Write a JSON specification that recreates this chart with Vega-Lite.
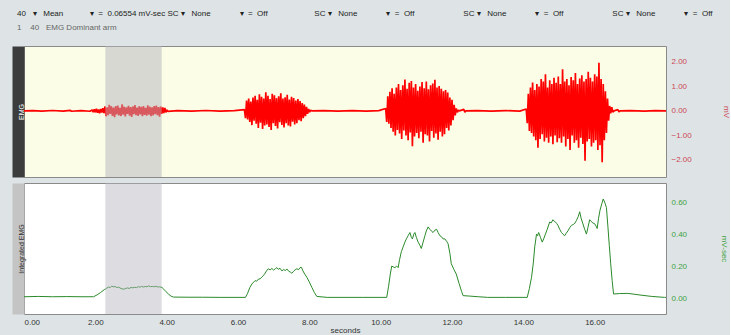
{
  "$schema": "https://vega.github.io/schema/vega-lite/v6.json",
  "background": "#dee4e5",
  "padding": {"left": 17, "right": 0, "top": 9, "bottom": 2},
  "title": {
    "text": "40\u00a0\u00a0\u00a0▾\u00a0\u00a0\u00a0Mean\u00a0\u00a0\u00a0\u00a0\u00a0\u00a0\u00a0\u00a0\u00a0\u00a0\u00a0\u00a0▾\u00a0\u00a0=\u00a0\u00a00.06554 mV-sec\u00a0SC\u00a0▾\u00a0\u00a0\u00a0None\u00a0\u00a0\u00a0\u00a0\u00a0\u00a0\u00a0\u00a0\u00a0\u00a0\u00a0\u00a0\u00a0▾\u00a0\u00a0=\u00a0\u00a0Off\u00a0\u00a0\u00a0\u00a0\u00a0\u00a0\u00a0\u00a0\u00a0\u00a0\u00a0\u00a0\u00a0\u00a0\u00a0\u00a0\u00a0\u00a0\u00a0\u00a0\u00a0SC\u00a0▾\u00a0\u00a0\u00a0None\u00a0\u00a0\u00a0\u00a0\u00a0\u00a0\u00a0\u00a0\u00a0\u00a0\u00a0\u00a0\u00a0▾\u00a0\u00a0=\u00a0\u00a0Off\u00a0\u00a0\u00a0\u00a0\u00a0\u00a0\u00a0\u00a0\u00a0\u00a0\u00a0\u00a0\u00a0\u00a0\u00a0\u00a0\u00a0\u00a0\u00a0\u00a0\u00a0\u00a0SC\u00a0▾\u00a0\u00a0\u00a0None\u00a0\u00a0\u00a0\u00a0\u00a0\u00a0\u00a0\u00a0\u00a0\u00a0\u00a0\u00a0\u00a0▾\u00a0\u00a0=\u00a0\u00a0Off\u00a0\u00a0\u00a0\u00a0\u00a0\u00a0\u00a0\u00a0\u00a0\u00a0\u00a0\u00a0\u00a0\u00a0\u00a0\u00a0\u00a0\u00a0\u00a0\u00a0\u00a0\u00a0SC\u00a0▾\u00a0\u00a0\u00a0None\u00a0\u00a0\u00a0\u00a0\u00a0\u00a0\u00a0\u00a0\u00a0\u00a0\u00a0\u00a0\u00a0▾\u00a0\u00a0=\u00a0\u00a0Off",
    "subtitle": "1\u00a0\u00a0\u00a0\u00a040\u00a0\u00a0\u00a0EMG\u00a0Dominant arm",
    "anchor": "start",
    "frame": "bounds",
    "font": "Liberation Sans",
    "fontSize": 8,
    "fontWeight": "normal",
    "color": "#222222",
    "subtitleFont": "Liberation Sans",
    "subtitleFontSize": 8,
    "subtitleColor": "#666666",
    "subtitlePadding": 6,
    "offset": 14
  },
  "datasets": {
    "emg": [
      {"t":0,"v":0},{"t":0.25,"v":0.01},{"t":0.5,"v":-0.01},{"t":0.8,"v":0.015},{"t":1.1,"v":-0.01},{"t":1.3,"v":0.02},{"t":1.33,"v":-0.015},{"t":1.6,"v":0.01},{"t":1.85,"v":-0.015},
      {"t":1.91,"v":0.04},{"t":1.94,"v":-0.05},{"t":1.97,"v":0.07},{"t":2.0,"v":-0.06},{"t":2.03,"v":0.09},{"t":2.06,"v":-0.08},{"t":2.09,"v":0.06},{"t":2.12,"v":-0.1},{"t":2.15,"v":0.08},{"t":2.18,"v":-0.07},{"t":2.21,"v":0.11},{"t":2.24,"v":-0.09},{"t":2.27,"v":0.18},{"t":2.3,"v":-0.22},{"t":2.33,"v":0.14},{"t":2.36,"v":-0.17},{"t":2.39,"v":0.25},{"t":2.42,"v":-0.12},{"t":2.45,"v":0.19},{"t":2.48,"v":-0.2},{"t":2.51,"v":0.13},{"t":2.54,"v":-0.26},{"t":2.57,"v":0.2},{"t":2.6,"v":-0.14},{"t":2.63,"v":0.22},{"t":2.66,"v":-0.18},{"t":2.69,"v":0.12},{"t":2.72,"v":-0.21},{"t":2.75,"v":0.27},{"t":2.78,"v":-0.15},{"t":2.81,"v":0.17},{"t":2.84,"v":-0.23},{"t":2.87,"v":0.14},{"t":2.9,"v":-0.12},{"t":2.93,"v":0.21},{"t":2.96,"v":-0.19},{"t":2.99,"v":0.15},{"t":3.02,"v":-0.25},{"t":3.05,"v":0.18},{"t":3.08,"v":-0.13},{"t":3.11,"v":0.24},{"t":3.14,"v":-0.17},{"t":3.17,"v":0.13},{"t":3.2,"v":-0.2},{"t":3.23,"v":0.19},{"t":3.26,"v":-0.14},{"t":3.29,"v":0.16},{"t":3.32,"v":-0.22},{"t":3.35,"v":0.2},{"t":3.38,"v":-0.16},{"t":3.41,"v":0.12},{"t":3.44,"v":-0.19},{"t":3.47,"v":0.23},{"t":3.5,"v":-0.15},{"t":3.53,"v":0.17},{"t":3.56,"v":-0.21},{"t":3.59,"v":0.14},{"t":3.62,"v":-0.18},{"t":3.65,"v":0.2},{"t":3.68,"v":-0.13},{"t":3.71,"v":0.22},{"t":3.74,"v":-0.17},{"t":3.77,"v":0.15},{"t":3.8,"v":-0.24},{"t":3.83,"v":0.18},{"t":3.86,"v":-0.12},{"t":3.89,"v":0.14},{"t":3.92,"v":-0.09},{"t":3.95,"v":0.12},{"t":3.98,"v":-0.06},{"t":4.01,"v":0.04},{"t":4.04,"v":-0.02},
      {"t":4.3,"v":0.01},{"t":4.7,"v":-0.01},{"t":5.1,"v":0.015},{"t":5.5,"v":-0.01},{"t":5.9,"v":0.012},
      {"t":6.18,"v":0.05},{"t":6.21,"v":-0.3},{"t":6.24,"v":0.42},{"t":6.27,"v":-0.35},{"t":6.3,"v":0.5},{"t":6.33,"v":-0.45},{"t":6.36,"v":0.38},{"t":6.39,"v":-0.58},{"t":6.42,"v":0.55},{"t":6.45,"v":-0.4},{"t":6.48,"v":0.62},{"t":6.51,"v":-0.52},{"t":6.54,"v":0.45},{"t":6.57,"v":-0.7},{"t":6.6,"v":0.68},{"t":6.63,"v":-0.48},{"t":6.66,"v":0.58},{"t":6.69,"v":-0.74},{"t":6.72,"v":0.5},{"t":6.75,"v":-0.6},{"t":6.78,"v":0.76},{"t":6.81,"v":-0.55},{"t":6.84,"v":0.62},{"t":6.87,"v":-0.66},{"t":6.9,"v":0.48},{"t":6.93,"v":-0.78},{"t":6.96,"v":0.7},{"t":6.99,"v":-0.5},{"t":7.02,"v":0.64},{"t":7.05,"v":-0.62},{"t":7.08,"v":0.52},{"t":7.11,"v":-0.72},{"t":7.14,"v":0.6},{"t":7.17,"v":-0.46},{"t":7.2,"v":0.72},{"t":7.23,"v":-0.58},{"t":7.26,"v":0.5},{"t":7.29,"v":-0.68},{"t":7.32,"v":0.56},{"t":7.35,"v":-0.5},{"t":7.38,"v":0.66},{"t":7.41,"v":-0.6},{"t":7.44,"v":0.46},{"t":7.47,"v":-0.64},{"t":7.5,"v":0.58},{"t":7.53,"v":-0.44},{"t":7.56,"v":0.52},{"t":7.59,"v":-0.55},{"t":7.62,"v":0.42},{"t":7.65,"v":-0.5},{"t":7.68,"v":0.48},{"t":7.71,"v":-0.38},{"t":7.74,"v":0.4},{"t":7.77,"v":-0.42},{"t":7.8,"v":0.32},{"t":7.83,"v":-0.3},{"t":7.86,"v":0.26},{"t":7.89,"v":-0.22},{"t":7.92,"v":0.16},{"t":7.95,"v":-0.12},{"t":7.98,"v":0.08},{"t":8.01,"v":-0.05},{"t":8.04,"v":0.03},{"t":8.07,"v":0},
      {"t":8.4,"v":0.01},{"t":8.8,"v":-0.01},{"t":9.2,"v":0.012},{"t":9.6,"v":-0.01},{"t":9.95,"v":0.01},
      {"t":10.14,"v":0.1},{"t":10.17,"v":-0.45},{"t":10.2,"v":0.6},{"t":10.23,"v":-0.52},{"t":10.26,"v":0.78},{"t":10.29,"v":-0.7},{"t":10.32,"v":0.92},{"t":10.35,"v":-0.85},{"t":10.38,"v":0.7},{"t":10.41,"v":-1.0},{"t":10.44,"v":0.95},{"t":10.47,"v":-0.78},{"t":10.5,"v":1.1},{"t":10.53,"v":-0.92},{"t":10.56,"v":0.85},{"t":10.59,"v":-1.15},{"t":10.62,"v":1.05},{"t":10.65,"v":-0.8},{"t":10.68,"v":1.28},{"t":10.71,"v":-1.0},{"t":10.74,"v":0.9},{"t":10.77,"v":-1.2},{"t":10.8,"v":1.15},{"t":10.83,"v":-0.88},{"t":10.86,"v":1.22},{"t":10.89,"v":-1.44},{"t":10.92,"v":0.95},{"t":10.95,"v":-1.05},{"t":10.98,"v":1.1},{"t":11.01,"v":-0.9},{"t":11.04,"v":0.82},{"t":11.07,"v":-1.12},{"t":11.1,"v":1.0},{"t":11.13,"v":-0.85},{"t":11.16,"v":1.18},{"t":11.19,"v":-1.3},{"t":11.22,"v":0.92},{"t":11.25,"v":-0.95},{"t":11.28,"v":1.2},{"t":11.31,"v":-1.0},{"t":11.34,"v":0.88},{"t":11.37,"v":-1.25},{"t":11.4,"v":1.05},{"t":11.43,"v":-0.82},{"t":11.46,"v":1.12},{"t":11.49,"v":-1.1},{"t":11.52,"v":1.27},{"t":11.55,"v":-0.92},{"t":11.58,"v":0.95},{"t":11.61,"v":-1.18},{"t":11.64,"v":1.02},{"t":11.67,"v":-0.85},{"t":11.7,"v":0.9},{"t":11.73,"v":-1.05},{"t":11.76,"v":0.8},{"t":11.79,"v":-0.95},{"t":11.82,"v":0.85},{"t":11.85,"v":-0.7},{"t":11.88,"v":0.75},{"t":11.91,"v":-0.8},{"t":11.94,"v":0.55},{"t":11.97,"v":-0.6},{"t":12.0,"v":0.45},{"t":12.03,"v":-0.38},{"t":12.06,"v":0.25},{"t":12.09,"v":-0.18},{"t":12.12,"v":0.1},{"t":12.15,"v":-0.06},{"t":12.18,"v":0.03},{"t":12.21,"v":0},
      {"t":12.33,"v":0.06},{"t":12.36,"v":-0.05},{"t":12.39,"v":0},{"t":12.7,"v":0.01},{"t":13.1,"v":-0.01},{"t":13.5,"v":0.012},{"t":13.9,"v":-0.01},
      {"t":14.08,"v":0.08},{"t":14.11,"v":-0.5},{"t":14.14,"v":0.7},{"t":14.17,"v":-0.82},{"t":14.2,"v":0.95},{"t":14.23,"v":-0.9},{"t":14.26,"v":1.16},{"t":14.29,"v":-1.05},{"t":14.32,"v":0.85},{"t":14.35,"v":-1.2},{"t":14.38,"v":1.1},{"t":14.41,"v":-1.5},{"t":14.44,"v":1.0},{"t":14.47,"v":-1.15},{"t":14.5,"v":1.3},{"t":14.53,"v":-0.95},{"t":14.56,"v":1.2},{"t":14.59,"v":-1.25},{"t":14.62,"v":1.5},{"t":14.65,"v":-1.1},{"t":14.68,"v":0.95},{"t":14.71,"v":-1.3},{"t":14.74,"v":1.25},{"t":14.77,"v":-1.05},{"t":14.8,"v":1.1},{"t":14.83,"v":-1.36},{"t":14.86,"v":1.35},{"t":14.89,"v":-1.0},{"t":14.92,"v":1.15},{"t":14.95,"v":-1.28},{"t":14.98,"v":1.4},{"t":15.01,"v":-1.12},{"t":15.04,"v":1.1},{"t":15.07,"v":-1.3},{"t":15.1,"v":1.7},{"t":15.13,"v":-1.05},{"t":15.16,"v":1.2},{"t":15.19,"v":-1.45},{"t":15.22,"v":1.3},{"t":15.25,"v":-1.15},{"t":15.28,"v":1.05},{"t":15.31,"v":-1.6},{"t":15.34,"v":1.38},{"t":15.37,"v":-1.0},{"t":15.4,"v":1.25},{"t":15.43,"v":-1.3},{"t":15.46,"v":1.55},{"t":15.49,"v":-1.2},{"t":15.52,"v":1.1},{"t":15.55,"v":-1.5},{"t":15.58,"v":1.32},{"t":15.61,"v":-1.1},{"t":15.64,"v":1.45},{"t":15.67,"v":-1.35},{"t":15.7,"v":1.2},{"t":15.73,"v":-2.04},{"t":15.76,"v":1.3},{"t":15.79,"v":-1.25},{"t":15.82,"v":1.6},{"t":15.85,"v":-1.15},{"t":15.88,"v":1.35},{"t":15.91,"v":-1.45},{"t":15.94,"v":1.2},{"t":15.97,"v":-1.3},{"t":16.0,"v":1.5},{"t":16.03,"v":-1.2},{"t":16.06,"v":1.4},{"t":16.09,"v":-1.6},{"t":16.12,"v":1.97},{"t":16.15,"v":-1.4},{"t":16.18,"v":1.3},{"t":16.21,"v":-2.1},{"t":16.24,"v":1.1},{"t":16.27,"v":-1.2},{"t":16.3,"v":0.8},{"t":16.33,"v":-0.9},{"t":16.36,"v":0.5},{"t":16.39,"v":-0.4},{"t":16.42,"v":0.2},{"t":16.45,"v":-0.1},{"t":16.48,"v":0.15},{"t":16.51,"v":-0.05},{"t":16.54,"v":0},
      {"t":16.65,"v":0.05},{"t":16.68,"v":-0.04},{"t":16.71,"v":0},{"t":17.0,"v":0.01},{"t":17.4,"v":-0.01},{"t":17.7,"v":0.012},{"t":18,"v":0}
    ],
    "iemg": [
      {"t":0,"v":0.008},{"t":0.4,"v":0.01},{"t":0.8,"v":0.008},{"t":1.2,"v":0.009},{"t":1.6,"v":0.008},{"t":1.95,"v":0.008},{"t":2.05,"v":0.02},{"t":2.15,"v":0.035},{"t":2.25,"v":0.052},{"t":2.32,"v":0.062},{"t":2.37,"v":0.068},{"t":2.42,"v":0.066},{"t":2.46,"v":0.075},{"t":2.5,"v":0.07},{"t":2.55,"v":0.072},{"t":2.6,"v":0.066},{"t":2.65,"v":0.068},{"t":2.72,"v":0.06},{"t":2.79,"v":0.055},{"t":2.85,"v":0.06},{"t":2.9,"v":0.063},{"t":2.95,"v":0.06},{"t":3.0,"v":0.066},{"t":3.05,"v":0.064},{"t":3.1,"v":0.067},{"t":3.15,"v":0.065},{"t":3.21,"v":0.071},{"t":3.26,"v":0.068},{"t":3.3,"v":0.073},{"t":3.35,"v":0.069},{"t":3.4,"v":0.072},{"t":3.45,"v":0.07},{"t":3.49,"v":0.076},{"t":3.55,"v":0.071},{"t":3.6,"v":0.073},{"t":3.65,"v":0.07},{"t":3.7,"v":0.074},{"t":3.75,"v":0.069},{"t":3.8,"v":0.07},{"t":3.87,"v":0.066},{"t":3.92,"v":0.055},{"t":3.98,"v":0.04},{"t":4.05,"v":0.025},{"t":4.12,"v":0.012},{"t":4.19,"v":0.006},{"t":4.6,"v":0.005},{"t":5.0,"v":0.005},{"t":5.5,"v":0.004},{"t":6.0,"v":0.004},{"t":6.21,"v":0.004},
      {"t":6.27,"v":0.03},{"t":6.33,"v":0.065},{"t":6.39,"v":0.088},{"t":6.44,"v":0.1},{"t":6.48,"v":0.109},{"t":6.52,"v":0.105},{"t":6.57,"v":0.118},{"t":6.62,"v":0.12},{"t":6.67,"v":0.132},{"t":6.71,"v":0.14},{"t":6.76,"v":0.155},{"t":6.8,"v":0.17},{"t":6.85,"v":0.183},{"t":6.9,"v":0.176},{"t":6.95,"v":0.185},{"t":7.0,"v":0.175},{"t":7.05,"v":0.184},{"t":7.09,"v":0.19},{"t":7.13,"v":0.18},{"t":7.18,"v":0.186},{"t":7.23,"v":0.17},{"t":7.28,"v":0.178},{"t":7.33,"v":0.172},{"t":7.37,"v":0.182},{"t":7.42,"v":0.168},{"t":7.47,"v":0.162},{"t":7.51,"v":0.155},{"t":7.56,"v":0.168},{"t":7.6,"v":0.176},{"t":7.65,"v":0.183},{"t":7.7,"v":0.178},{"t":7.74,"v":0.19},{"t":7.78,"v":0.192},{"t":7.82,"v":0.17},{"t":7.87,"v":0.15},{"t":7.93,"v":0.13},{"t":8.0,"v":0.1},{"t":8.07,"v":0.067},{"t":8.14,"v":0.035},{"t":8.21,"v":0.01},{"t":8.5,"v":0.004},{"t":9.0,"v":0.004},{"t":9.5,"v":0.004},{"t":10.17,"v":0.004},
      {"t":10.22,"v":0.07},{"t":10.27,"v":0.15},{"t":10.31,"v":0.2},{"t":10.35,"v":0.195},{"t":10.4,"v":0.19},{"t":10.45,"v":0.2},{"t":10.49,"v":0.19},{"t":10.53,"v":0.24},{"t":10.58,"v":0.29},{"t":10.63,"v":0.32},{"t":10.68,"v":0.35},{"t":10.72,"v":0.37},{"t":10.77,"v":0.39},{"t":10.82,"v":0.41},{"t":10.86,"v":0.38},{"t":10.89,"v":0.37},{"t":10.93,"v":0.4},{"t":10.96,"v":0.41},{"t":11.0,"v":0.38},{"t":11.05,"v":0.35},{"t":11.1,"v":0.33},{"t":11.14,"v":0.31},{"t":11.19,"v":0.35},{"t":11.24,"v":0.39},{"t":11.28,"v":0.42},{"t":11.33,"v":0.445},{"t":11.38,"v":0.43},{"t":11.42,"v":0.42},{"t":11.47,"v":0.41},{"t":11.52,"v":0.425},{"t":11.57,"v":0.43},{"t":11.61,"v":0.41},{"t":11.66,"v":0.39},{"t":11.7,"v":0.385},{"t":11.75,"v":0.37},{"t":11.8,"v":0.37},{"t":11.85,"v":0.355},{"t":11.89,"v":0.34},{"t":11.94,"v":0.28},{"t":11.98,"v":0.215},{"t":12.05,"v":0.18},{"t":12.12,"v":0.15},{"t":12.2,"v":0.09},{"t":12.27,"v":0.04},{"t":12.31,"v":0.015},{"t":12.5,"v":0.012},{"t":12.74,"v":0.008},{"t":13.0,"v":0.004},{"t":13.5,"v":0.004},{"t":14.11,"v":0.004},
      {"t":14.17,"v":0.06},{"t":14.23,"v":0.13},{"t":14.28,"v":0.22},{"t":14.32,"v":0.32},{"t":14.37,"v":0.4},{"t":14.4,"v":0.39},{"t":14.43,"v":0.41},{"t":14.48,"v":0.38},{"t":14.53,"v":0.35},{"t":14.57,"v":0.37},{"t":14.62,"v":0.4},{"t":14.67,"v":0.43},{"t":14.74,"v":0.476},{"t":14.78,"v":0.47},{"t":14.83,"v":0.49},{"t":14.87,"v":0.48},{"t":14.9,"v":0.476},{"t":14.94,"v":0.465},{"t":14.97,"v":0.455},{"t":15.02,"v":0.43},{"t":15.07,"v":0.41},{"t":15.11,"v":0.4},{"t":15.16,"v":0.39},{"t":15.2,"v":0.405},{"t":15.25,"v":0.42},{"t":15.3,"v":0.44},{"t":15.35,"v":0.455},{"t":15.4,"v":0.46},{"t":15.45,"v":0.47},{"t":15.49,"v":0.486},{"t":15.54,"v":0.51},{"t":15.58,"v":0.54},{"t":15.62,"v":0.5},{"t":15.67,"v":0.465},{"t":15.72,"v":0.43},{"t":15.77,"v":0.4},{"t":15.81,"v":0.44},{"t":15.86,"v":0.49},{"t":15.9,"v":0.48},{"t":15.95,"v":0.47},{"t":16.0,"v":0.465},{"t":16.04,"v":0.45},{"t":16.07,"v":0.435},{"t":16.11,"v":0.5},{"t":16.15,"v":0.55},{"t":16.2,"v":0.59},{"t":16.24,"v":0.62},{"t":16.28,"v":0.6},{"t":16.33,"v":0.567},{"t":16.37,"v":0.45},{"t":16.41,"v":0.33},{"t":16.45,"v":0.214},{"t":16.49,"v":0.11},{"t":16.53,"v":0.025},{"t":16.7,"v":0.028},{"t":16.93,"v":0.029},{"t":17.1,"v":0.024},{"t":17.3,"v":0.018},{"t":17.6,"v":0.01},{"t":17.96,"v":0.004},{"t":18,"v":0.004}
    ],
    "sel": [{"t0": 2.28, "t1": 3.86}]
  },
  "vconcat": [
    {
      "width": 642,
      "height": 131,
      "view": {"fill": "#fbfde7", "stroke": "#8a8a8a"},
      "layer": [
        {
          "data": {"name": "emg"},
          "mark": {"type": "line", "color": "#ff0000", "strokeWidth": 1.7, "strokeJoin": "bevel", "interpolate": "linear"},
          "encoding": {
            "x": {"field": "t", "type": "quantitative", "scale": {"domain": [0, 18], "nice": false, "zero": false}, "axis": null},
            "y": {"field": "v", "type": "quantitative", "scale": {"domain": [-2.7, 2.65], "nice": false, "zero": false},
              "axis": {"orient": "right", "values": [-2, -1, 0, 1, 2], "format": ".2f", "title": "mV", "labelColor": "#cc4455", "titleColor": "#cc4455", "labelPadding": 5, "titlePadding": 30}}
          }
        },
        {
          "data": {"name": "sel"},
          "mark": {"type": "rect", "color": "#b4b4bc", "opacity": 0.5},
          "encoding": {
            "x": {"field": "t0", "type": "quantitative"},
            "x2": {"field": "t1"}
          }
        },
        {
          "data": {"name": "sel"},
          "mark": {"type": "rule", "opacity": 0},
          "encoding": {
            "y": {"datum": 0, "type": "quantitative",
              "axis": {"orient": "left", "title": "EMG", "labels": false, "ticks": false, "domain": true, "domainColor": "#3c3c3c", "domainWidth": 12, "offset": 6, "titleColor": "#ffffff", "titlePadding": -6.5, "titleFontSize": 7}}
          }
        }
      ],
      "resolve": {"axis": {"y": "independent"}}
    },
    {
      "width": 642,
      "height": 131,
      "view": {"fill": "#ffffff", "stroke": "#8a8a8a"},
      "layer": [
        {
          "data": {"name": "iemg"},
          "mark": {"type": "line", "color": "#2a8a2a", "strokeWidth": 1},
          "encoding": {
            "x": {"field": "t", "type": "quantitative", "scale": {"domain": [0, 18], "nice": false, "zero": false},
              "axis": {"values": [0, 2, 4, 6, 8, 10, 12, 14, 16], "format": ".2f", "title": "seconds", "labelFlush": true, "labelFlushOffset": 0, "labelPadding": 4, "titlePadding": 0, "labelColor": "#333333", "titleColor": "#333333"}},
            "y": {"field": "v", "type": "quantitative", "scale": {"domain": [-0.1, 0.72], "nice": false, "zero": false},
              "axis": {"orient": "right", "values": [0, 0.2, 0.4, 0.6], "format": ".2f", "title": "mV-sec", "labelColor": "#3f9f3f", "titleColor": "#3f9f3f", "labelPadding": 5, "titlePadding": 33}}
          }
        },
        {
          "data": {"name": "sel"},
          "mark": {"type": "rect", "color": "#b4b4bc", "opacity": 0.45},
          "encoding": {
            "x": {"field": "t0", "type": "quantitative"},
            "x2": {"field": "t1"}
          }
        },
        {
          "data": {"name": "sel"},
          "mark": {"type": "rule", "opacity": 0},
          "encoding": {
            "y": {"datum": 0, "type": "quantitative",
              "axis": {"orient": "left", "title": "Integrated EMG", "labels": false, "ticks": false, "domain": true, "domainColor": "#c4c4c4", "domainWidth": 12, "offset": 6, "titleColor": "#333333", "titlePadding": -6.5, "titleFontSize": 7}}
          }
        }
      ],
      "resolve": {"axis": {"y": "independent"}}
    }
  ],
  "spacing": 4,
  "resolve": {"scale": {"y": "independent"}},
  "config": {
    "axis": {"grid": false, "ticks": false, "domain": false, "labelFont": "Liberation Sans", "labelFontSize": 8, "titleFont": "Liberation Sans", "titleFontSize": 8, "titleFontWeight": "normal"}
  }
}
